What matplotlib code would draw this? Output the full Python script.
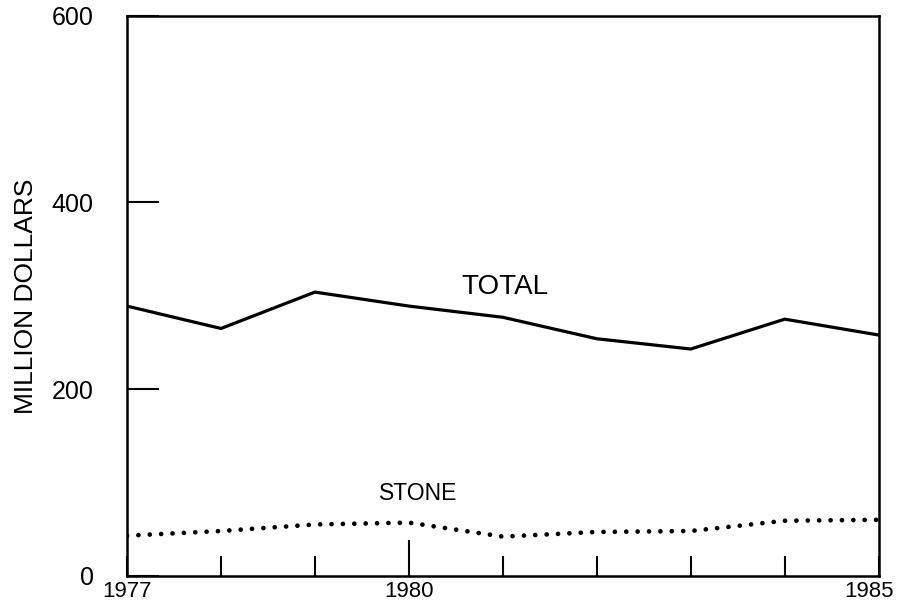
import matplotlib
matplotlib.use('Agg')
import matplotlib.pyplot as plt
from matplotlib.transforms import ScaledTranslation

# Data
years = [1977, 1978, 1979, 1980, 1981, 1982, 1983, 1984, 1985]
total = [289, 265, 304, 289, 277, 254, 243, 275, 258]
stone = [43, 48, 55, 57, 42, 47, 48, 59, 60]
year_labels = ['1977', '', '', '1980', '', '', '', '', '1985']
y_ticks = [0, 200, 400, 600]

plt.rcParams['font.family'] = ['Liberation Sans', 'DejaVu Sans']

fig = plt.figure(figsize=(9.04, 6.09), dpi=100)
ax = fig.add_axes([0.1405, 0.0545, 0.8315, 0.9195])

ax.plot(years, total, color='black', lw=2.3, solid_joinstyle='miter')
ax.plot(years, stone, color='black', lw=3.4, linestyle=(0, (0.01, 2.4)),
        dash_capstyle='round')

ax.text(1981.02, 309, 'TOTAL', fontsize=20, ha='center', va='center')
ax.text(1980.1, 88, 'STONE', fontsize=16.5, ha='center', va='center')

ax.set_xlim(1977, 1985)
ax.set_ylim(0, 600)
ax.set_xticks(years)
ax.set_xticklabels(year_labels, fontsize=16)
ax.set_yticks(y_ticks)
ax.set_yticklabels([str(v) for v in y_ticks], fontsize=18)
ax.tick_params(axis='x', direction='in', length=14.5, width=1.5, pad=4)
ax.tick_params(axis='y', direction='in', length=23, width=1.5, pad=24)
ax.xaxis.get_major_ticks()[3].tick1line.set_markersize(26)
ax.set_ylabel('MILLION DOLLARS', fontsize=19, labelpad=10)

# keep the last year label inside the figure
last = ax.get_xticklabels()[-1]
last.set_transform(last.get_transform()
                   + ScaledTranslation(-0.1, 0, fig.dpi_scale_trans))

for s in ax.spines.values():
    s.set_linewidth(1.8)

fig.savefig('out.png', dpi=100)
